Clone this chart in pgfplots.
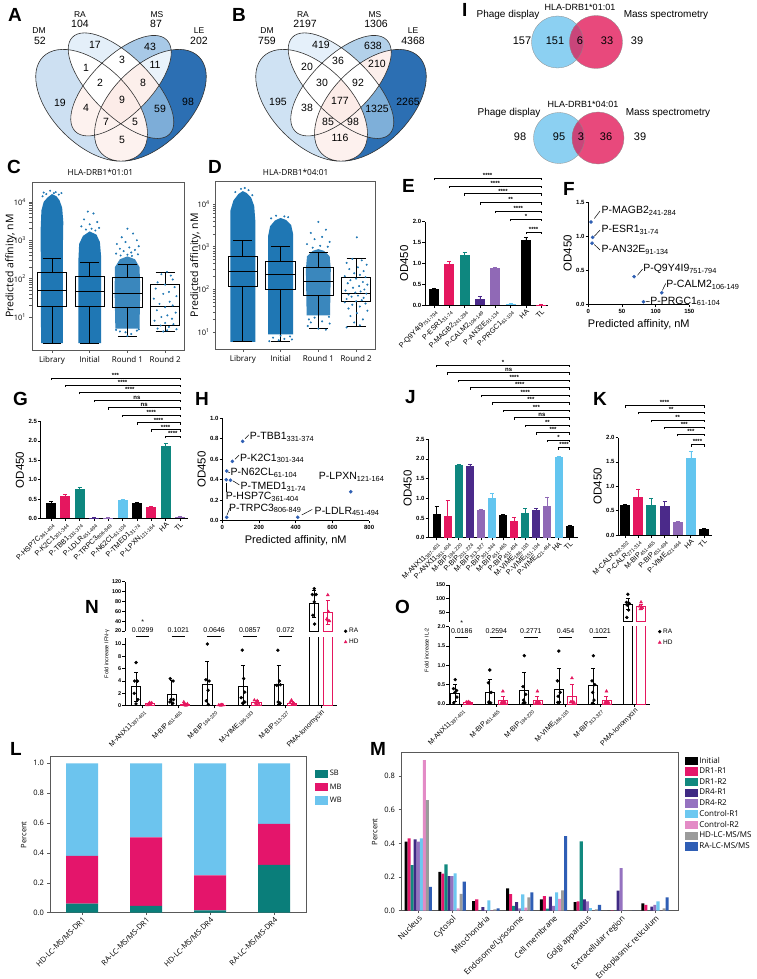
\documentclass[border=0pt]{standalone}
\usepackage{fontspec}
\setmainfont{Liberation Sans}
\newfontfamily\osf{Open Sans}
\usepackage{pgfplots}
\pgfplotsset{compat=1.18}
\newcommand\fs[1]{\fontsize{#1}{#1}\selectfont}

\definecolor{tabblue}{HTML}{1F77B4}
\definecolor{gpk}{HTML}{000000}
\definecolor{gpp}{HTML}{E5175F}
\definecolor{gpt}{HTML}{0E877F}
\definecolor{gpd}{HTML}{4B2A8A}
\definecolor{gpv}{HTML}{9069B6}
\definecolor{gpl}{HTML}{63C5EF}
\definecolor{sblue}{HTML}{2F5FB3}
\definecolor{ib}{HTML}{8CD0F2}
\definecolor{ip}{HTML}{E8497C}
\definecolor{io}{HTML}{C9457A}
\definecolor{lsb}{HTML}{0A7E7A}
\definecolor{lmb}{HTML}{E4156B}
\definecolor{lwb}{HTML}{6CC4EE}
\definecolor{m1}{HTML}{000000}
\definecolor{m2}{HTML}{E5176A}
\definecolor{m3}{HTML}{11897F}
\definecolor{m4}{HTML}{3F2A84}
\definecolor{m5}{HTML}{9572C0}
\definecolor{m6}{HTML}{6DC8F0}
\definecolor{m7}{HTML}{E38BC6}
\definecolor{m8}{HTML}{9B9B9B}
\definecolor{m9}{HTML}{2F5EB5}
% venn A
\definecolor{vA1}{HTML}{CDE0F2}\definecolor{vA2}{HTML}{E4EFF9}
\definecolor{vA3}{HTML}{A8C9E7}\definecolor{vA4}{HTML}{2C6FB3}
\definecolor{vA12}{HTML}{FFFFFF}\definecolor{vA13}{HTML}{FDF2EF}
\definecolor{vA14}{HTML}{FDF2EF}\definecolor{vA23}{HTML}{FFFFFF}
\definecolor{vA24}{HTML}{7DADD8}\definecolor{vA34}{HTML}{EAF3FB}
\definecolor{vA123}{HTML}{FFFFFF}\definecolor{vA124}{HTML}{FDF2EF}
\definecolor{vA134}{HTML}{FDF1EE}\definecolor{vA234}{HTML}{FCEFEB}
\definecolor{vA1234}{HTML}{FCECE8}
% venn B
\definecolor{vB1}{HTML}{CFE2F3}\definecolor{vB2}{HTML}{E5F0FA}
\definecolor{vB3}{HTML}{B3D1EA}\definecolor{vB4}{HTML}{2C6FB3}
\definecolor{vB12}{HTML}{FFFFFF}\definecolor{vB13}{HTML}{FFFFFF}
\definecolor{vB14}{HTML}{FDF1EE}\definecolor{vB23}{HTML}{FFFFFF}
\definecolor{vB24}{HTML}{7EAFD9}\definecolor{vB34}{HTML}{FCEFEC}
\definecolor{vB123}{HTML}{FFFFFF}\definecolor{vB124}{HTML}{FDF1EE}
\definecolor{vB134}{HTML}{FDF1EE}\definecolor{vB234}{HTML}{FFFFFF}
\definecolor{vB1234}{HTML}{FCECE8}

\def\eDM{(0.35,0.47) ellipse [x radius=0.35, y radius=0.2, rotate=135]}
\def\eRA{(0.5,0.57) ellipse [x radius=0.35, y radius=0.15, rotate=135]}
\def\eMS{(0.5,0.57) ellipse [x radius=0.33, y radius=0.15, rotate=45]}
\def\eLE{(0.65,0.47) ellipse [x radius=0.35, y radius=0.2, rotate=45]}
\newcommand\vennpaint[1]{%
 \fill[#11]\eDM; \fill[#12]\eRA; \fill[#13]\eMS; \fill[#14]\eLE;
 \begin{scope}\clip\eDM; \fill[#112]\eRA; \end{scope}
 \begin{scope}\clip\eDM; \fill[#113]\eMS; \end{scope}
 \begin{scope}\clip\eDM; \fill[#114]\eLE; \end{scope}
 \begin{scope}\clip\eRA; \fill[#123]\eMS; \end{scope}
 \begin{scope}\clip\eRA; \fill[#124]\eLE; \end{scope}
 \begin{scope}\clip\eMS; \fill[#134]\eLE; \end{scope}
 \begin{scope}\clip\eDM;\clip\eRA; \fill[#1123]\eMS; \end{scope}
 \begin{scope}\clip\eDM;\clip\eRA; \fill[#1124]\eLE; \end{scope}
 \begin{scope}\clip\eDM;\clip\eMS; \fill[#1134]\eLE; \end{scope}
 \begin{scope}\clip\eRA;\clip\eMS; \fill[#1234]\eLE; \end{scope}
 \begin{scope}\clip\eDM;\clip\eRA;\clip\eMS; \fill[#11234]\eLE; \end{scope}
 \draw[line width=0.6pt, black!80] \eDM \eRA \eMS \eLE;}

\pgfplotsset{
  gp/.style={scale only axis, anchor=south west, clip=false,
    axis x line*=bottom, axis y line*=left,
    axis line style={line width=0.9pt},
    tick style={black, line width=0.8pt},
    tick align=outside, major tick length=2.6pt, ymin=0,
    yticklabel style={font=\bfseries\fs{6}, inner sep=1pt,
      /pgf/number format/fixed, /pgf/number format/fixed zerofill,
      /pgf/number format/precision=1},
    /pgf/number format/assume math mode=true,
    ylabel style={font=\fs{11.5}}},
  gpbar/.style={gp, xtick={0,...,20},
    xticklabel style={font=\fs{7.2}, rotate=45, anchor=north east, inner sep=0.5pt}},
  mp/.style={scale only axis, anchor=south west,
    axis line style={black!65, line width=0.6pt},
    tick style={black!65, line width=0.6pt},
    tick align=outside, major tick length=2.5pt,
    xtick pos=left, ytick pos=left,
    tick label style={font=\osf\fs{7.5}},
    /pgf/number format/assume math mode=true},
  pts/.style={only marks, mark=*, mark size=0.8pt, color=tabblue, mark options={draw=none, fill=tabblue}},
  bxs/.style={black, line width=0.9pt},
  mylegend/.style={legend image code/.code={\fill[##1] (0pt,-4.2pt) rectangle (13pt,4.2pt);}}
}

\newcommand\gb[4]{\addplot[ybar, bar shift=0pt, fill=#4, draw=none,
  error bars/.cd, y dir=plus, y explicit, error bar style={#4, line width=0.6pt}]
  coordinates {(#1,#2) +- (0,#3)};}
\newcommand\br[4]{\draw[line width=0.45pt] (axis cs:#1,#3) ++(0pt,-2.2pt) -- (axis cs:#1,#3)
  -- node[above, inner sep=0.4pt, font=\bfseries\fs{6}] {#4} (axis cs:#2,#3) -- ++(0pt,-2.2pt);}
\newcommand\bx[6]{%
  \pgfmathsetmacro\xa{#1-0.39}\pgfmathsetmacro\xb{#1+0.39}%
  \pgfmathsetmacro\xc{#1-0.25}\pgfmathsetmacro\xd{#1+0.25}%
  \edef\tmp{%
   \noexpand\addplot[bxs] coordinates {(\xa,#3) (\xb,#3) (\xb,#5) (\xa,#5) (\xa,#3)};%
   \noexpand\addplot[bxs] coordinates {(\xa,#4) (\xb,#4)};%
   \noexpand\addplot[bxs] coordinates {(#1,#5) (#1,#6)};%
   \noexpand\addplot[bxs] coordinates {(\xc,#6) (\xd,#6)};%
   \noexpand\addplot[bxs] coordinates {(#1,#3) (#1,#2)};%
   \noexpand\addplot[bxs] coordinates {(\xc,#2) (\xd,#2)};}%
  \tmp}

\begin{document}
\begin{tikzpicture}[x=1pt,y=-1pt]
\useasboundingbox (0,0) rectangle (756,979);
\fill[white] (0,0) rectangle (756,979);

% ---------- panel letters
\begin{scope}[every node/.style={anchor=base west, inner sep=0, font=\bfseries\fs{19}}]
\node at (8,22) {A}; \node at (232,22) {B}; \node at (462,17) {I};
\node at (7,173) {C}; \node at (208,173) {D}; \node at (402,192) {E};
\node at (563,195) {F}; \node at (13,405) {G}; \node at (195,405) {H};
\node at (405,403) {J}; \node at (593,405) {K}; \node at (85,613) {N};
\node at (395,613) {O}; \node at (10,755) {L}; \node at (370,755) {M};
\end{scope}

% ---------- A and B venn
\begin{scope}[shift={(23,197.4)}, x=196pt, y=196pt] \vennpaint{vA} \end{scope}
\begin{scope}[shift={(243,197.4)}, x=196pt, y=196pt] \vennpaint{vB} \end{scope}
\begin{scope}[every node/.style={font=\fs{10.5}, inner sep=0}]
\node at (95,45) {17}; \node at (150,47) {43}; \node at (86,68) {1};
\node at (122,60) {3}; \node at (155,65) {11}; \node at (100,83) {2};
\node at (143,83) {8}; \node at (60,103) {19}; \node at (122,100) {9};
\node at (188,102) {98}; \node at (86,108) {4}; \node at (160,109) {59};
\node at (106,122) {7}; \node at (135,122) {5}; \node at (122,140) {5};
\node at (321,45) {419}; \node at (373,46) {638}; \node at (307,67) {20};
\node at (338,61) {36}; \node at (377,64) {210}; \node at (322,83) {30};
\node at (358,83) {92}; \node at (278,102) {195}; \node at (340,101) {177};
\node at (408,102) {2265}; \node at (307,108) {38}; \node at (377,109) {1325};
\node at (328,122) {85}; \node at (353,122) {98}; \node at (340,138) {116};
\node at (40,41) {52}; \node at (80,24) {104}; \node at (156,24) {87}; \node at (199,41) {202};
\node at (267,41) {759}; \node at (305,24) {2197}; \node at (376,24) {1306}; \node at (413,41) {4368};
\end{scope}
\begin{scope}[every node/.style={font=\fs{8.5}, inner sep=0}]
\node at (39,31) {DM}; \node at (80,15) {RA}; \node at (157,15) {MS}; \node at (199,31) {LE};
\node at (267,31) {DM}; \node at (303,15) {RA}; \node at (375,15) {MS}; \node at (413,31) {LE};
\end{scope}

% ---------- I
\fill[ib] (557.5,42) circle (26); \fill[ip] (596,42) circle (26.5);
\begin{scope}\clip (557.5,42) circle (26); \fill[io] (596,42) circle (26.5); \end{scope}
\draw[black!45, line width=0.3pt] (557.5,42) circle (26) (596,42) circle (26.5);
\fill[ib] (559,138) circle (25.5); \fill[ip] (598,138) circle (26);
\begin{scope}\clip (559,138) circle (25.5); \fill[io] (598,138) circle (26); \end{scope}
\draw[black!45, line width=0.3pt] (559,138) circle (25.5) (598,138) circle (26);
\begin{scope}[every node/.style={font=\fs{10}, inner sep=0}]
\node at (508,15) {Phage display}; \node at (666,15) {Mass spectrometry};
\node at (509,113) {Phage display}; \node at (668,113) {Mass spectrometry};
\node[font=\fs{9}] at (580,7) {HLA-DRB1*01:01}; \node[font=\fs{9}] at (583,104) {HLA-DRB1*04:01};
\end{scope}
\begin{scope}[every node/.style={font=\fs{11}, inner sep=0}]
\node at (522,41) {157}; \node at (555,41) {151}; \node at (580,41) {6};
\node at (607,41) {33}; \node at (637,41) {39};
\node at (520,137) {98}; \node at (559,137) {95}; \node at (581,137) {3};
\node at (606,137) {36}; \node at (640,137) {39};
\end{scope}

% ---------- C
\begin{axis}[mp, at={(32pt,-350pt)}, width=152pt, height=168pt,
  ymode=log, ymin=1.38, ymax=33000, xmin=-0.53, xmax=3.5,
  xtick={0,1,2,3}, xticklabels={Library,Initial,Round 1,Round 2},
  xticklabel style={font=\osf\fs{8}},
  ytick={10,100,1000,10000},
  yticklabels={10\textsuperscript{1},10\textsuperscript{2},10\textsuperscript{3},10\textsuperscript{4}},
  title={HLA-DRB1*01:01}, title style={font=\osf\fs{8.3}, at={(0.45,1)}, anchor=south, yshift=-3.5pt},
  ylabel={Predicted affinity, nM}, ylabel style={font=\osf\fs{10.5}}, ylabel shift=-9pt]
\addplot[fill=tabblue, draw=none] coordinates {(-0.29,2.1)(0.29,2.1)(0.29,800)(0.3,3000)(0.27,7000)(0.2,11000)(0.12,14000)(0,16000)(-0.12,13000)(-0.22,10000)(-0.28,6000)(-0.3,2000)};
\addplot[pts] coordinates {(-0.22,17500)(-0.05,19500)(0.1,18000)(0.25,17000)(0.18,15500)(-0.15,16000)(0.05,17000)(-0.25,14000)};
\addplot[fill=tabblue, draw=none] coordinates {(0.7,2.1)(1.3,2.1)(1.3,400)(1.27,900)(1.18,1400)(1,1700)(0.82,1300)(0.72,800)(0.7,300)};
\addplot[pts] coordinates {(0.95,5600)(1.1,5000)(0.85,3500)(1.2,3000)(1,2600)(0.78,2300)(1.25,2100)(1.05,2000)(0.9,1900)(1.15,1800)};
\addplot[fill=tabblue!88, draw=none] coordinates {(1.68,5)(2.32,5)(2.34,60)(2.32,200)(2.2,320)(2,380)(1.8,320)(1.67,200)(1.66,50)};
\addplot[pts] coordinates {(2,2000)(2.15,1500)(1.85,1200)(2.25,1000)(1.95,900)(1.72,800)(2.3,700)(2.05,650)(1.8,600)(2.2,560)(1.9,520)(2.1,480)(1.7,450)(2.28,430)(2,420)(1.82,400)(2.12,390)(1.8,4.2)(2.1,3.6)(2.25,4.4)(2,3.2)(1.7,4.6)(1.95,4)(2.3,4.8)};
\addplot[pts] coordinates {(3.05,150)(2.9,130)(3.15,120)(3.2,95)(2.8,80)(3,70)(3.25,60)(2.75,55)(3.1,45)(2.95,40)(3.3,35)(2.7,30)(3.12,25)(2.85,22)(3.2,20)(3,18)(2.78,15)(3.28,13)(3.06,11)(2.9,10)(3.18,9)(2.72,8)(3,7)(3.22,6.5)(2.88,6)(3.1,5.5)(2.8,5)(3.3,4.8)(3.05,4.5)(2.95,4.2)};
\bx{0}{2.1}{18.5}{48}{143}{339}
\bx{1}{2.1}{18.5}{45}{117}{270}
\bx{2}{3.2}{17.4}{40}{106}{236}
\bx{3}{4.1}{6.2}{19}{71}{146}
\end{axis}

% ---------- D
\begin{axis}[mp, at={(215.7pt,-349pt)}, width=160pt, height=167.3pt,
  ymode=log, ymin=4.07, ymax=33100, xmin=-0.72, xmax=3.52,
  xtick={0,1,2,3}, xticklabels={Library,Initial,Round 1,Round 2},
  xticklabel style={font=\osf\fs{8}},
  ytick={10,100,1000,10000},
  yticklabels={10\textsuperscript{1},10\textsuperscript{2},10\textsuperscript{3},10\textsuperscript{4}},
  title={HLA-DRB1*04:01}, title style={font=\osf\fs{8.3}, at={(0.5,1)}, anchor=south, yshift=-3.5pt},
  ylabel={Predicted affinity, nM}, ylabel style={font=\osf\fs{10.5}}, ylabel shift=-10pt]
\addplot[fill=tabblue, draw=none] coordinates {(-0.33,6)(0.33,6)(0.33,4000)(0.3,9000)(0.22,14000)(0.1,18000)(0,20000)(-0.12,17000)(-0.25,12000)(-0.33,7000)};
\addplot[pts] coordinates {(-0.05,22500)(0.15,21000)(-0.2,19000)(0.25,16000)(0.05,23500)};
\addplot[fill=tabblue, draw=none] coordinates {(0.67,9)(1.33,9)(1.33,2000)(1.28,3200)(1.15,4200)(1,4700)(0.85,4100)(0.72,3000)(0.67,1800)};
\addplot[pts] coordinates {(0.8,7.5)(0.95,6.5)(1.1,7)(1.25,8)(0.7,6.2)(1.3,6.8)(1,8.3)(0.88,5300)(1.1,5100)(1.2,4900)(0.75,4600)};
\addplot[fill=tabblue!88, draw=none] coordinates {(1.69,25)(2.31,25)(2.33,300)(2.3,600)(2.15,800)(2,880)(1.85,800)(1.7,600)(1.67,300)};
\addplot[pts] coordinates {(2,3800)(2.2,2500)(1.8,2100)(2.1,1700)(1.9,1500)(2.3,1300)(1.7,1150)(2.05,1050)(2.25,1000)(1.85,950)(1.75,20)(2.1,18)(2.3,16)(1.72,14)(2,12.2)(2.2,11.5)(1.9,22)(2.28,23)(1.8,17)};
\addplot[pts] coordinates {(3.02,1660)(2.9,520)(3.15,480)(2.75,420)(3.28,380)(3.05,330)(2.82,300)(3.2,270)(2.95,240)(3.1,220)(2.7,205)(3.25,195)(3,180)(2.85,165)(3.18,150)(2.78,140)(3.3,130)(3.08,120)(2.92,110)(3.22,100)(2.72,95)(3.12,90)(2.98,85)(3.27,80)(2.8,76)(3.05,72)(2.88,68)(3.2,64)(2.75,60)(3.15,56)(3,53)(2.7,50)(3.25,47)(2.9,44)(3.1,40)(2.8,36)(3.3,32)(3.02,28)(2.85,24)(3.18,20)(2.95,17)(3.1,14.5)(2.75,13)};
\bx{0}{6}{116}{260}{600}{1380}
\bx{1}{6}{98}{225}{460}{1000}
\bx{2}{12.3}{72}{157}{335}{725}
\bx{3}{13.9}{51.5}{83}{192}{535}
\end{axis}

% ---------- E
\begin{axis}[gpbar, at={(425pt,-305.3pt)}, width=123pt, height=83.6pt,
  xmin=-0.59, xmax=7.44, ymax=2, ytick={0,0.5,1,1.5,2}, bar width=0.65,
  xticklabels={P-Q9Y4I9\textsubscript{751-794},P-ESR1\textsubscript{31-74},P-MAGB2\textsubscript{241-284},P-CALM2\textsubscript{106-149},P-AN32E\textsubscript{91-134},P-PRGC1\textsubscript{61-104},HA,TL},
  ylabel={OD450}]
\gb{0}{0.40}{0.02}{gpk} \gb{1}{0.98}{0.07}{gpp} \gb{2}{1.20}{0.07}{gpt}
\gb{3}{0.15}{0.07}{gpd} \gb{4}{0.90}{0.01}{gpv} \gb{5}{0.03}{0.01}{gpl}
\gb{6}{1.56}{0.06}{gpk} \gb{7}{0.01}{0.005}{gpp}
\br{0}{7}{3.05}{****} \br{1}{7}{2.86}{****} \br{2}{7}{2.67}{****}
\br{3}{7}{2.46}{**} \br{4}{7}{2.26}{****} \br{5}{7}{2.06}{*} \br{6}{7}{1.76}{****}
\end{axis}

% ---------- F
\begin{axis}[gp, at={(588.3pt,-304.7pt)}, width=101pt, height=102.6pt,
  xmin=0, xmax=150, ymax=1.5, ytick={0,0.5,1,1.5}, xtick={0,50,100,150},
  xticklabel style={font=\bfseries\fs{6}, inner sep=2pt},
  xlabel={Predicted affinity, nM}, xlabel style={font=\fs{11}}, ylabel={OD450}]
\addplot[only marks, mark=*, mark size=1.6pt, color=sblue] coordinates {(4,1.21)(6.4,0.985)(5.5,0.90)(68,0.41)(109,0.175)(82,0.044)};
\begin{scope}[every node/.style={anchor=west, font=\fs{10.5}, inner sep=0.5pt}]
\node at (axis cs:18.8,1.37) {P-MAGB2\textsubscript{241-284}};
\node at (axis cs:18.8,1.09) {P-ESR1\textsubscript{31-74}};
\node at (axis cs:18.8,0.80) {P-AN32E\textsubscript{91-134}};
\node at (axis cs:80.6,0.52) {P-Q9Y4I9\textsubscript{751-794}};
\node at (axis cs:115,0.29) {P-CALM2\textsubscript{106-149}};
\node at (axis cs:91,0.05) {P-PRGC1\textsubscript{61-104}};
\end{scope}
\draw[line width=0.5pt] (axis cs:8.9,1.26) -- (axis cs:17.4,1.37);
\draw[line width=0.5pt] (axis cs:8.9,1.0) -- (axis cs:17.4,1.09);
\draw[line width=0.5pt] (axis cs:8.9,0.88) -- (axis cs:17.4,0.80);
\draw[line width=0.5pt] (axis cs:73,0.43) -- (axis cs:80.6,0.52);
\draw[line width=0.5pt] (axis cs:110,0.21) -- (axis cs:115,0.31);
\draw[line width=0.5pt] (axis cs:85.6,0.044) -- (axis cs:91,0.05);
\end{axis}

% ---------- G
\begin{axis}[gpbar, at={(40.7pt,-518.3pt)}, width=147.3pt, height=96.75pt,
  xmin=-0.72, xmax=9.56, ymax=2.5, ytick={0,0.5,1,1.5,2,2.5}, bar width=0.7,
  xticklabels={P-HSP7C\textsubscript{361-404},P-K2C1\textsubscript{301-344},P-TBB1\textsubscript{331-374},P-LDLR\textsubscript{451-494},P-TRPC3\textsubscript{806-849},P-N62CL\textsubscript{61-104},P-TMED1\textsubscript{31-74},P-LPXN\textsubscript{121-164},HA,TL},
  ylabel={OD450}]
\gb{0}{0.40}{0.03}{gpk} \gb{1}{0.58}{0.04}{gpp} \gb{2}{0.77}{0.04}{gpt}
\gb{3}{0.02}{0.01}{gpd} \gb{4}{0.02}{0.01}{gpv} \gb{5}{0.48}{0.02}{gpl}
\gb{6}{0.39}{0.03}{gpk} \gb{7}{0.28}{0.02}{gpp} \gb{8}{1.87}{0.06}{gpt} \gb{9}{0.03}{0.03}{gpv}
\br{0}{9}{3.63}{***} \br{1}{9}{3.45}{****} \br{2}{9}{3.26}{****} \br{3}{9}{3.06}{ns}
\br{4}{9}{2.86}{ns} \br{5}{9}{2.67}{****} \br{6}{9}{2.47}{****} \br{7}{9}{2.29}{****} \br{8}{9}{2.12}{****}
\end{axis}

% ---------- H
\begin{axis}[gp, at={(222.3pt,-520.7pt)}, width=146.8pt, height=102.4pt,
  xmin=0, xmax=800, ymax=1, ytick={0,0.2,0.4,0.6,0.8,1}, xtick={0,200,400,600,800},
  xticklabel style={font=\bfseries\fs{6}, inner sep=2pt},
  xlabel={Predicted affinity, nM}, xlabel style={font=\fs{11}}, ylabel={OD450}]
\addplot[only marks, mark=*, mark size=1.6pt, color=sblue] coordinates {(111,0.775)(55,0.58)(24,0.485)(45,0.395)(22,0.40)(24,0.033)(411,0.033)(700,0.283)};
\begin{scope}[every node/.style={anchor=west, font=\fs{10.5}, inner sep=0.5pt}]
\node at (axis cs:147,0.82) {P-TBB1\textsubscript{331-374}};
\node at (axis cs:93,0.61) {P-K2C1\textsubscript{301-344}};
\node at (axis cs:42,0.465) {P-N62CL\textsubscript{61-104}};
\node at (axis cs:96,0.33) {P-TMED1\textsubscript{31-74}};
\node at (axis cs:16,0.234) {P-HSP7C\textsubscript{361-404}};
\node at (axis cs:33,0.12) {P-TRPC3\textsubscript{806-849}};
\node at (axis cs:500,0.09) {P-LDLR\textsubscript{451-494}};
\node at (axis cs:523,0.43) {P-LPXN\textsubscript{121-164}};
\end{scope}
\draw[line width=0.5pt] (axis cs:124,0.80) -- (axis cs:145,0.84);
\draw[line width=0.5pt] (axis cs:69,0.60) -- (axis cs:91,0.64);
\draw[line width=0.5pt] (axis cs:30,0.475) -- (axis cs:42,0.47);
\draw[line width=0.5pt] (axis cs:57,0.39) -- (axis cs:93,0.35);
\draw[line width=0.5pt] (axis cs:24,0.37) -- (axis cs:24,0.28);
\draw[line width=0.5pt] (axis cs:26,0.056) -- (axis cs:40,0.12);
\draw[line width=0.5pt] (axis cs:433,0.056) -- (axis cs:490,0.11);
\end{axis}

% ---------- J
\begin{axis}[gpbar, at={(428.3pt,-537.7pt)}, width=149.7pt, height=98.5pt,
  xmin=-0.74, xmax=12.75, ymax=2.5, ytick={0,0.5,1,1.5,2,2.5}, bar width=0.72,
  xticklabels={M-ANX11\textsubscript{387-401},P-ANX11\textsubscript{361-404},M-BIP\textsubscript{194-220},P-BIP\textsubscript{201-224},M-BIP\textsubscript{313-327},P-BIP\textsubscript{301-344},M-BIP\textsubscript{451-465},P-BIP\textsubscript{451-494},M-VIME\textsubscript{186-193},P-VIME\textsubscript{151-194},P-VIME\textsubscript{421-464},HA,TL},
  ylabel={OD450}]
\gb{0}{0.60}{0.19}{gpk} \gb{1}{0.56}{0.38}{gpp} \gb{2}{1.85}{0.02}{gpt}
\gb{3}{1.81}{0.06}{gpd} \gb{4}{0.71}{0.02}{gpv} \gb{5}{1.00}{0.12}{gpl}
\gb{6}{0.58}{0.02}{gpk} \gb{7}{0.42}{0.09}{gpp} \gb{8}{0.62}{0.12}{gpt}
\gb{9}{0.70}{0.04}{gpd} \gb{10}{0.80}{0.24}{gpv} \gb{11}{2.06}{0.02}{gpl} \gb{12}{0.30}{0.03}{gpk}
\br{0}{12}{4.38}{*} \br{1}{12}{4.19}{ns} \br{2}{12}{4.00}{****} \br{3}{12}{3.81}{****}
\br{4}{12}{3.62}{****} \br{5}{12}{3.43}{***} \br{6}{12}{3.24}{***} \br{7}{12}{3.05}{ns}
\br{8}{12}{2.86}{**} \br{9}{12}{2.67}{***} \br{10}{12}{2.48}{*} \br{11}{12}{2.29}{****}
\end{axis}

% ---------- K
\begin{axis}[gpbar, at={(618.3pt,-535pt)}, width=93.4pt, height=97.4pt,
  xmin=-0.51, xmax=6.58, ymax=2, ytick={0,0.5,1,1.5,2}, bar width=0.76,
  xticklabels={M-CALR\textsubscript{282-302},P-CALR\textsubscript{271-314},M-BIP\textsubscript{451-465},P-BIP\textsubscript{451-494},P-VIME\textsubscript{421-464},HA,TL},
  ylabel={OD450}]
\gb{0}{0.62}{0.01}{gpk} \gb{1}{0.79}{0.16}{gpp} \gb{2}{0.62}{0.14}{gpt}
\gb{3}{0.60}{0.09}{gpd} \gb{4}{0.26}{0.02}{gpv} \gb{5}{1.58}{0.14}{gpl} \gb{6}{0.12}{0.01}{gpk}
\br{0}{6}{2.66}{****} \br{1}{6}{2.52}{**} \br{2}{6}{2.36}{**}
\br{3}{6}{2.22}{***} \br{4}{6}{2.07}{***} \br{5}{6}{1.86}{****}
\end{axis}

% ---------- N lower
\begin{axis}[gp, clip=true, at={(125pt,-705.7pt)}, width=211.7pt, height=68.1pt,
  xmin=-0.5, xmax=5.44, ymax=11.04, ytick={0,2,4,6,8,10},
  yticklabel style={font=\bfseries\fs{5.5}, /pgf/number format/precision=0},
  xtick={0,...,5}, bar width=0.26,
  xticklabels={M-ANX11\textsubscript{387-401},M-BIP\textsubscript{451-465},M-BIP\textsubscript{194-220},M-VIME\textsubscript{186-193},M-BIP\textsubscript{313-327},PMA-Ionomycin},
  xticklabel style={font=\fs{7}, rotate=45, anchor=north east, inner sep=0.5pt},
  legend style={at={(1.02,1.2)}, anchor=north west, draw=none, fill=none, font=\fs{6.5}, row sep=1pt},
  legend cell align=left]
\addplot[ybar, bar shift=0pt, draw=black, fill=none, line width=0.8pt, forget plot,
  error bars/.cd, y dir=both, y explicit, error bar style={black, line width=0.6pt}]
  coordinates {(-0.19,3.1) +- (0,2.4) (0.81,1.8) +- (0,2.4) (1.81,3.5) +- (0,3.7) (2.81,3.2) +- (0,3.3) (3.81,3.4) +- (0,3.1) (4.81,75) +- (0,28)};
\addplot[ybar, bar shift=0pt, draw=gpp, fill=none, line width=0.8pt, forget plot,
  error bars/.cd, y dir=both, y explicit, error bar style={gpp, line width=0.6pt}]
  coordinates {(0.19,0.3) +- (0,0.2) (1.19,0.25) +- (0,0.2) (2.19,0.1) +- (0,0.05) (3.19,0.5) +- (0,0.35) (4.19,0.4) +- (0,0.3) (5.19,58) +- (0,24)};
\addplot[only marks, mark=*, mark size=1.5pt, black] coordinates {(-0.19,7.0)(-0.23,4.0)(-0.15,4.0)(-0.24,2.0)(-0.14,1.0)(-0.19,0.3)(0.77,4.4)(0.85,4.0)(0.79,1.0)(0.86,1.0)(0.76,0.6)(0.84,0.4)(1.81,10)(1.77,4.2)(1.86,4.0)(1.83,2.5)(1.78,0.8)(1.84,0.2)(2.79,9)(2.83,4.4)(2.86,2.2)(2.76,1.3)(2.8,0.4)(2.86,0.6)(3.79,9)(3.83,4)(3.76,3.3)(3.86,3.4)(3.8,0.6)(3.85,0.4)(4.81,106)(4.76,94)(4.86,94)(4.81,79)(4.77,52)(4.82,34)};
\addlegendentry{RA}
\addplot[only marks, mark=triangle*, mark size=1.7pt, color=gpp] coordinates {(0.13,0.1)(0.17,0.2)(0.21,0.3)(0.25,0.45)(0.19,0.5)(0.23,0.15)(1.15,0.6)(1.19,0.2)(1.23,0.1)(1.17,0.1)(1.25,0.3)(1.21,0.05)(2.13,0.1)(2.17,0.1)(2.21,0.15)(2.25,0.1)(2.19,0.05)(2.23,0.12)(3.13,0.9)(3.21,0.8)(3.17,0.4)(3.25,0.3)(3.19,0.2)(3.23,0.5)(4.17,0.9)(4.13,0.5)(4.21,0.3)(4.25,0.3)(4.19,0.2)(4.23,0.4)(5.19,93)(5.21,59)(5.16,44)(5.24,40)(5.19,42)};
\addlegendentry{HD}
\end{axis}
% ---------- N upper
\begin{axis}[gp, clip=true, at={(125pt,-631pt)}, width=211.7pt, height=49.3pt,
  xmin=-0.5, xmax=5.44, ymin=20, ymax=120, ytick={20,40,60,80,100,120},
  yticklabel style={font=\bfseries\fs{5.5}, /pgf/number format/precision=0},
  axis x line=none, xtick=\empty, bar width=0.26]
\addplot[ybar, bar shift=0pt, draw=black, fill=none, line width=0.8pt,
  error bars/.cd, y dir=both, y explicit, error bar style={black, line width=0.6pt}]
  coordinates {(4.81,75) +- (0,28)};
\addplot[ybar, bar shift=0pt, draw=gpp, fill=none, line width=0.8pt,
  error bars/.cd, y dir=both, y explicit, error bar style={gpp, line width=0.6pt}]
  coordinates {(5.19,58) +- (0,24)};
\addplot[only marks, mark=*, mark size=1.5pt, black] coordinates {(4.81,106)(4.76,94)(4.86,94)(4.81,79)(4.77,52)(4.82,34)};
\addplot[only marks, mark=triangle*, mark size=1.7pt, color=gpp] coordinates {(5.19,93)(5.21,59)(5.16,44)(5.24,40)(5.19,42)};
\end{axis}
\node[rotate=90, font=\fs{5.5}] at (107,654) {Fold increase IFN-γ};
\begin{scope}[every node/.style={font=\fs{7}, inner sep=0}]
\node at (142.7,621.7) {*};
\node at (142.7,630) {0.0299}; \node at (178.4,630) {0.1021}; \node at (214.1,630) {0.0646};
\node at (249.8,630) {0.0857}; \node at (285.5,630) {0.072};
\end{scope}
\foreach \c in {142.7,178.4,214.1,249.8,285.5}{\draw[line width=0.9pt] (\c-6.7,636) -- (\c+6.7,636);}

% ---------- O lower
\begin{axis}[gp, clip=true, at={(449pt,-704pt)}, width=201pt, height=77.3pt,
  xmin=-0.37, xmax=5.45, ymax=2, ytick={0,0.5,1,1.5,2},
  yticklabel style={font=\bfseries\fs{5.5}},
  xtick={0,...,5}, bar width=0.26,
  xticklabels={M-ANX11\textsubscript{387-401},M-BIP\textsubscript{451-465},M-BIP\textsubscript{194-220},M-VIME\textsubscript{186-193},M-BIP\textsubscript{313-327},PMA-Ionomycin},
  xticklabel style={font=\fs{7}, rotate=45, anchor=north east, inner sep=0.5pt},
  legend style={at={(1.025,1.03)}, anchor=north west, draw=none, fill=none, font=\fs{6.5}, row sep=1pt},
  legend cell align=left]
\addplot[ybar, bar shift=0pt, draw=black, fill=none, line width=0.8pt, forget plot,
  error bars/.cd, y dir=both, y explicit, error bar style={black, line width=0.6pt}]
  coordinates {(-0.19,0.28) +- (0,0.22) (0.81,0.30) +- (0,0.35) (1.81,0.35) +- (0,0.47) (2.81,0.39) +- (0,0.53) (3.81,0.47) +- (0,0.45) (4.81,80) +- (0,20)};
\addplot[ybar, bar shift=0pt, draw=gpp, fill=none, line width=0.8pt, forget plot,
  error bars/.cd, y dir=both, y explicit, error bar style={gpp, line width=0.6pt}]
  coordinates {(0.19,0.04) +- (0,0.02) (1.19,0.085) +- (0,0.12) (2.19,0.085) +- (0,0.12) (3.19,0.19) +- (0,0.31) (4.19,0.085) +- (0,0.12) (5.19,70) +- (0,10)};
\addplot[only marks, mark=*, mark size=1.5pt, black] coordinates {(-0.19,0.63)(-0.24,0.40)(-0.15,0.35)(-0.2,0.30)(-0.14,0.18)(-0.23,0.03)(0.81,0.88)(0.77,0.55)(0.85,0.30)(0.78,0.05)(0.84,0.03)(0.8,0.02)(1.81,1.25)(1.77,0.45)(1.85,0.25)(1.79,0.1)(1.83,0.03)(1.78,0.02)(2.81,1.37)(2.77,0.6)(2.85,0.3)(2.79,0.2)(2.83,0.05)(2.78,0.04)(3.81,1.25)(3.77,0.6)(3.85,0.5)(3.79,0.3)(3.83,0.1)(3.78,0.02)(4.81,116)(4.77,86)(4.85,82)(4.79,76)(4.83,58)(4.78,31)};
\addlegendentry{RA}
\addplot[only marks, mark=triangle*, mark size=1.7pt, color=gpp] coordinates {(0.13,0.05)(0.17,0.03)(0.21,0.04)(0.25,0.02)(0.19,0.06)(0.23,0.03)(1.19,0.33)(1.15,0.04)(1.23,0.04)(1.17,0.03)(1.21,0.03)(1.25,0.04)(2.19,0.33)(2.15,0.04)(2.23,0.04)(2.17,0.03)(2.21,0.03)(2.25,0.04)(3.19,0.67)(3.15,0.05)(3.23,0.04)(3.17,0.05)(3.21,0.06)(3.25,0.04)(4.19,0.33)(4.15,0.04)(4.23,0.04)(4.17,0.03)(4.21,0.03)(4.25,0.04)(5.19,87)(5.15,72)(5.23,66)(5.17,62)(5.21,68)};
\addlegendentry{HD}
\end{axis}
% ---------- O upper
\begin{axis}[gp, clip=true, at={(449pt,-621.7pt)}, width=201pt, height=36.7pt,
  xmin=-0.37, xmax=5.45, ymin=15.2, ymax=150, ytick={50,100,150},
  yticklabel style={font=\bfseries\fs{5.5}, /pgf/number format/precision=0},
  axis x line=none, xtick=\empty, bar width=0.26]
\addplot[ybar, bar shift=0pt, draw=black, fill=none, line width=0.8pt,
  error bars/.cd, y dir=both, y explicit, error bar style={black, line width=0.6pt}]
  coordinates {(4.81,80) +- (0,20)};
\addplot[ybar, bar shift=0pt, draw=gpp, fill=none, line width=0.8pt,
  error bars/.cd, y dir=both, y explicit, error bar style={gpp, line width=0.6pt}]
  coordinates {(5.19,70) +- (0,10)};
\addplot[only marks, mark=*, mark size=1.5pt, black] coordinates {(4.81,116)(4.77,86)(4.85,82)(4.79,76)(4.83,58)(4.78,31)};
\addplot[only marks, mark=triangle*, mark size=1.7pt, color=gpp] coordinates {(5.19,87)(5.15,72)(5.23,66)(5.17,62)(5.21,68)};
\end{axis}
\node[rotate=90, font=\fs{5.5}] at (426.7,650) {Fold increase IL-2};
\begin{scope}[every node/.style={font=\fs{7}, inner sep=0}]
\node at (461.7,623.3) {*};
\node at (461.7,630.7) {0.0186}; \node at (496.3,630.7) {0.2594}; \node at (530.9,630.7) {0.2771};
\node at (565.5,630.7) {0.454}; \node at (600.1,630.7) {0.1021};
\end{scope}
\foreach \c in {461.7,496.3,530.9,565.5,600.1}{\draw[line width=0.9pt] (\c-6.7,637.3) -- (\c+6.7,637.3);}

% ---------- L
\begin{axis}[mp, at={(50pt,-912.7pt)}, width=256pt, height=156pt,
  xmin=-0.5, xmax=3.5, ymin=0, ymax=1.044, ybar stacked, bar width=0.5,
  xtick={0,1,2,3}, xticklabels={HD-LC-MS/MS-DR1,RA-LC-MS/MS-DR1,HD-LC-MS/MS-DR4,RA-LC-MS/MS-DR4},
  xticklabel style={rotate=45, anchor=north east, inner sep=1pt},
  ytick={0,0.2,0.4,0.6,0.8,1.0},
  yticklabel style={/pgf/number format/fixed, /pgf/number format/fixed zerofill, /pgf/number format/precision=1},
  ylabel={Percent}, ylabel style={font=\osf\fs{7.5}},
  legend style={at={(1.022,0.94)}, anchor=north west, draw=none, fill=none, font=\osf\fs{7.5}, row sep=2.5pt},
  legend cell align=left]
\addplot[fill=lsb, draw=none, mylegend] coordinates {(0,0.06)(1,0.045)(2,0.015)(3,0.32)};
\addplot[fill=lmb, draw=none, mylegend] coordinates {(0,0.32)(1,0.46)(2,0.235)(3,0.275)};
\addplot[fill=lwb, draw=none, mylegend] coordinates {(0,0.62)(1,0.495)(2,0.75)(3,0.405)};
\legend{SB,MB,WB}
\end{axis}

% ---------- M
\begin{axis}[mp, at={(401pt,-910.7pt)}, width=277.3pt, height=158pt,
  xmin=-0.51, xmax=7.69, ymin=0, ymax=0.938, ybar=0pt, bar width=0.09,
  xtick={0,...,7}, xticklabels={Nucleus,Cytosol,Mitochondria,Endosome/Lysosome,Cell membrane,Golgi apparatus,Extracellular region,Endoplasmic reticulum},
  xticklabel style={rotate=45, anchor=north east, inner sep=1pt, font=\osf\fs{8}},
  ytick={0,0.2,0.4,0.6,0.8},
  yticklabel style={/pgf/number format/fixed, /pgf/number format/fixed zerofill, /pgf/number format/precision=1},
  ylabel={Percent}, ylabel style={font=\osf\fs{7.5}},
  legend style={at={(1.012,0.995)}, anchor=north west, draw=none, fill=none, font=\osf\fs{8}, row sep=0.3pt, nodes={inner sep=1.5pt}},
  legend cell align=left]
\addplot[fill=m1, draw=none, mylegend] coordinates {(0,0.41)(1,0.23)(2,0.057)(3,0.133)(4,0.067)(5,0.051)(6,0)(7,0.044)};
\addplot[fill=m2, draw=none, mylegend] coordinates {(0,0.43)(1,0.22)(2,0.067)(3,0.099)(4,0.087)(5,0.055)(6,0.002)(7,0.034)};
\addplot[fill=m3, draw=none, mylegend] coordinates {(0,0.27)(1,0.275)(2,0)(3,0.028)(4,0.012)(5,0.411)(6,0)(7,0)};
\addplot[fill=m4, draw=none, mylegend] coordinates {(0,0.423)(1,0.206)(2,0.022)(3,0.051)(4,0.083)(5,0.067)(6,0.119)(7,0.024)};
\addplot[fill=m5, draw=none, mylegend] coordinates {(0,0.41)(1,0.206)(2,0.004)(3,0.014)(4,0.028)(5,0.055)(6,0.253)(7,0.034)};
\addplot[fill=m6, draw=none, mylegend] coordinates {(0,0.43)(1,0.222)(2,0.061)(3,0.097)(4,0.109)(5,0.016)(6,0)(7,0.055)};
\addplot[fill=m7, draw=none, mylegend] coordinates {(0,0.894)(1,0.014)(2,0.002)(3,0.018)(4,0.071)(5,0)(6,0)(7,0)};
\addplot[fill=m8, draw=none, mylegend] coordinates {(0,0.657)(1,0.1)(2,0.008)(3,0.079)(4,0.121)(5,0.008)(6,0)(7,0.014)};
\addplot[fill=m9, draw=none, mylegend] coordinates {(0,0.142)(1,0.172)(2,0.014)(3,0.109)(4,0.443)(5,0.034)(6,0)(7,0.079)};
\legend{Initial,DR1-R1,DR1-R2,DR4-R1,DR4-R2,Control-R1,Control-R2,HD-LC-MS/MS,RA-LC-MS/MS}
\end{axis}
\end{tikzpicture}
\end{document}
